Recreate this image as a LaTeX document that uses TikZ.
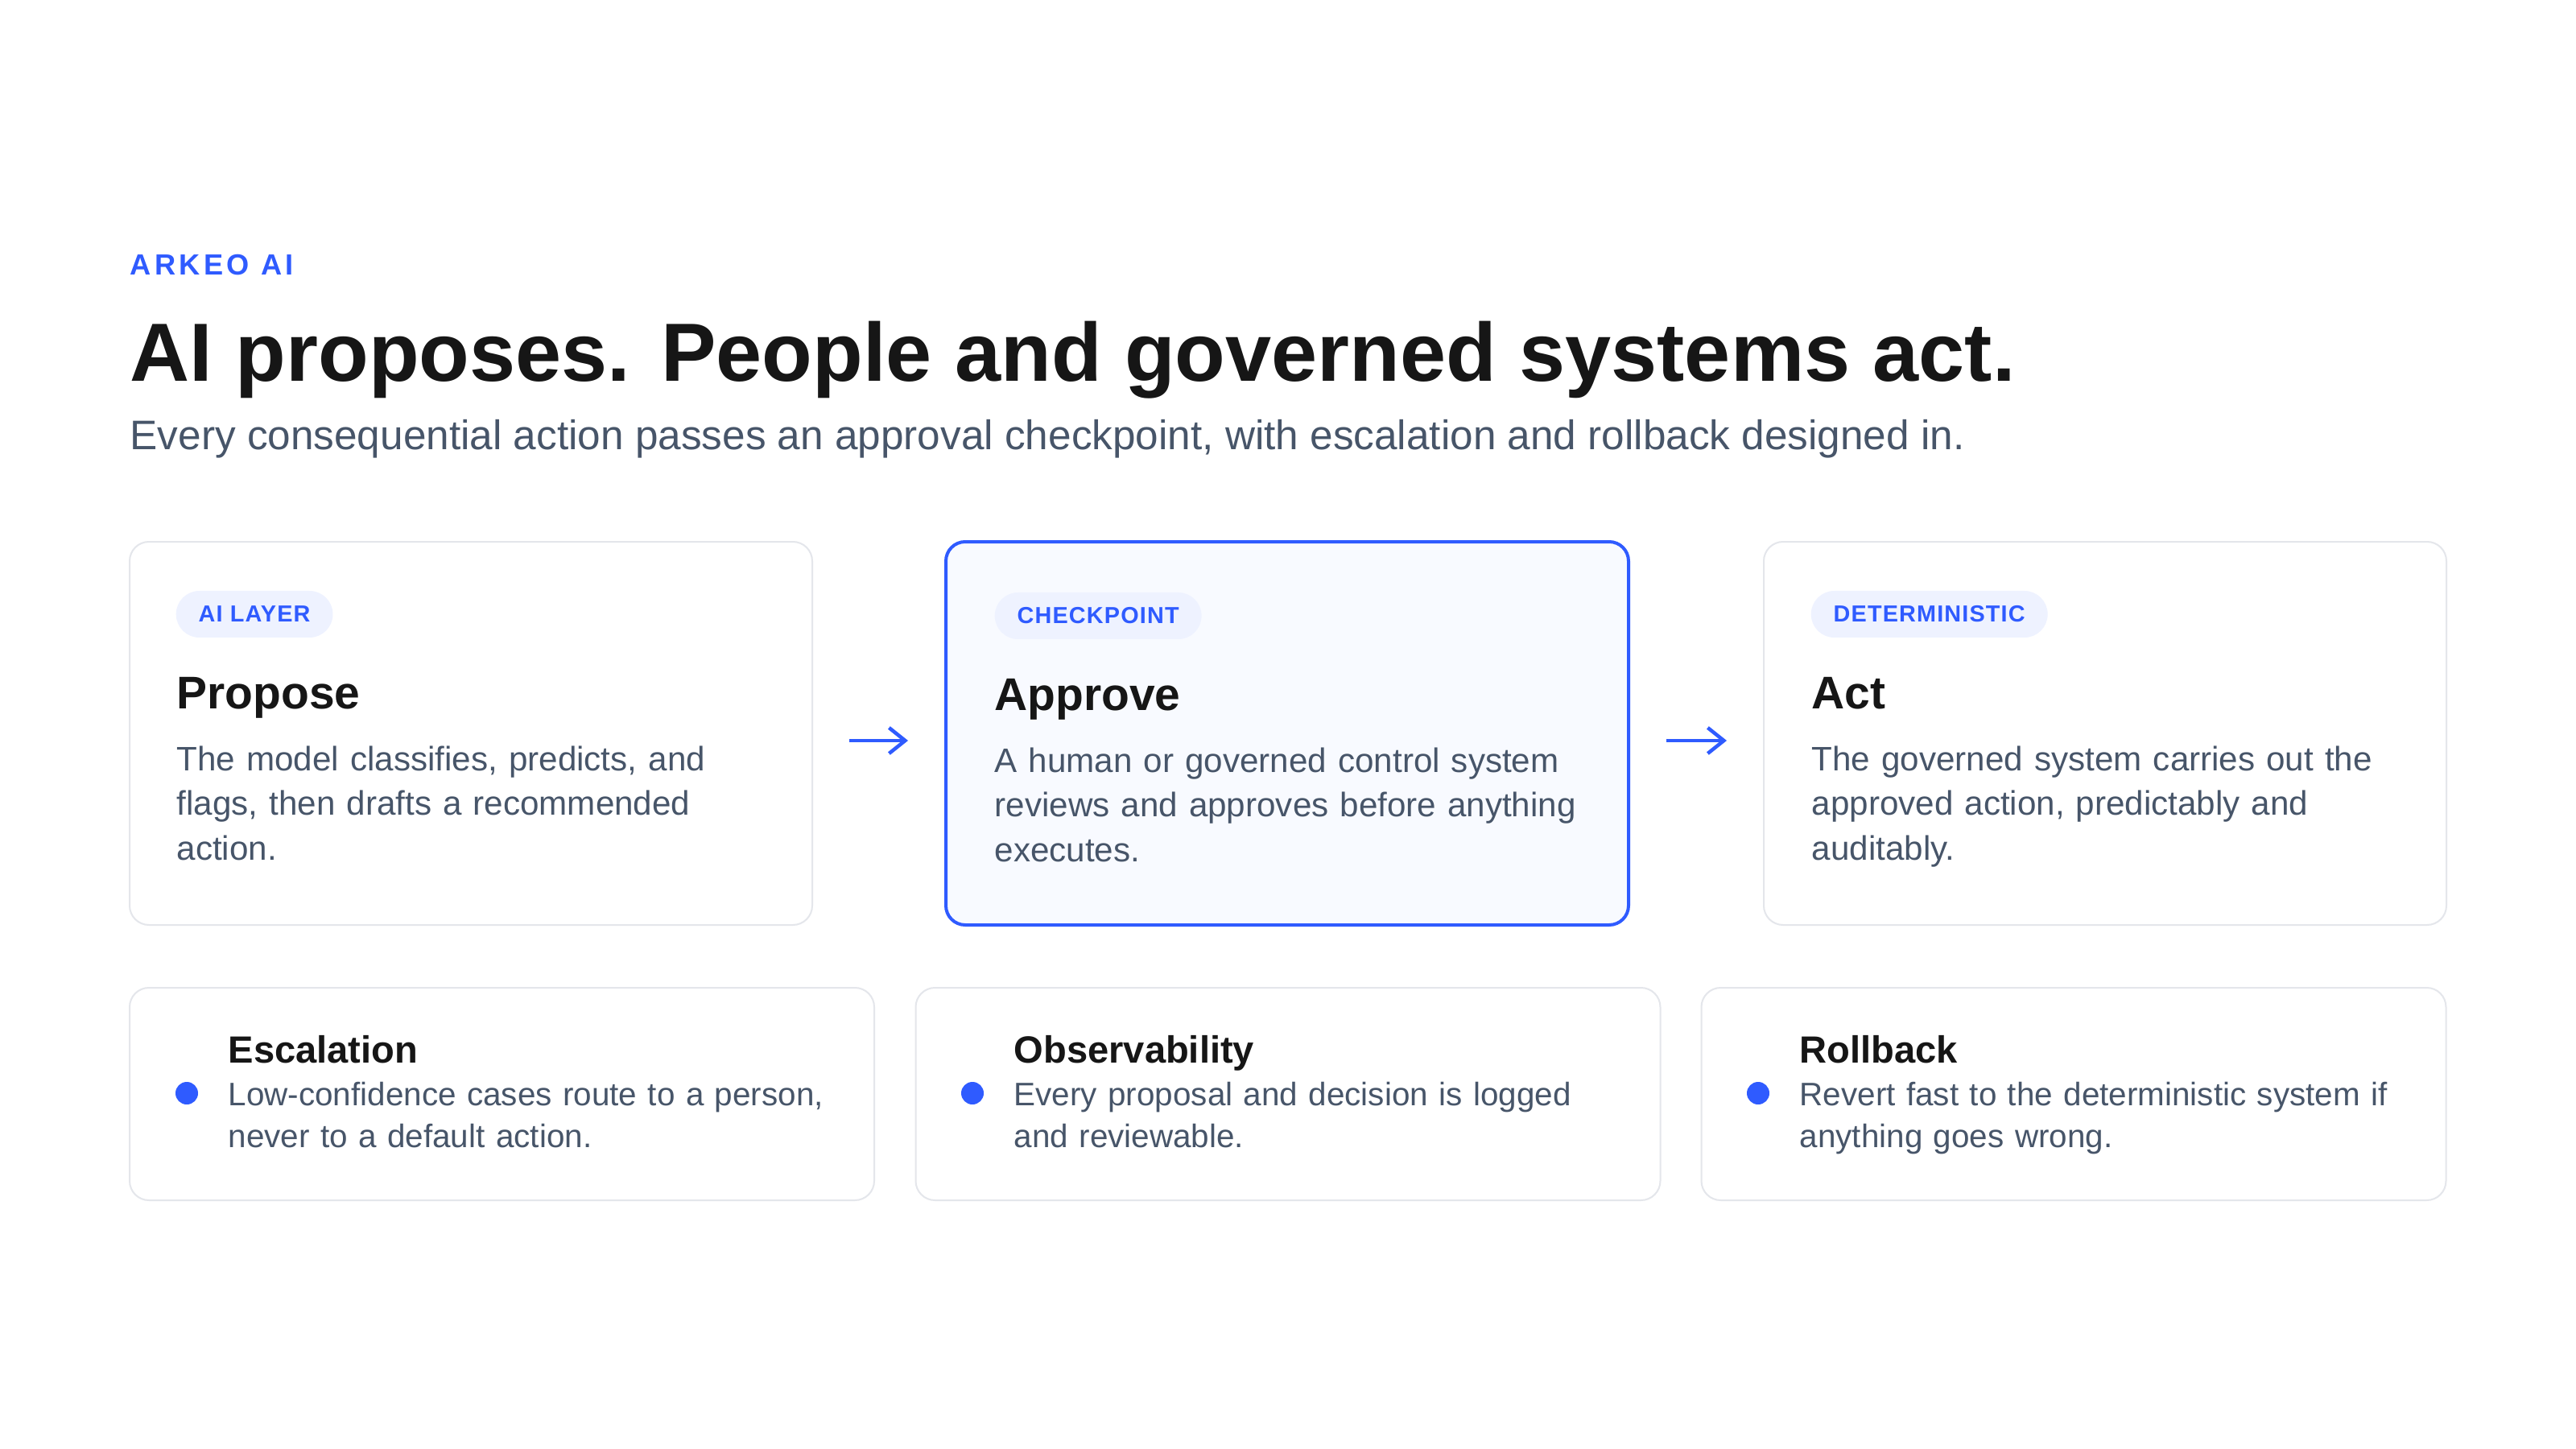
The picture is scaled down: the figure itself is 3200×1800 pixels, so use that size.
\documentclass[tikz,border=0pt]{standalone}
\usepackage{fontspec}
\setmainfont{Liberation Sans}
\usetikzlibrary{arrows.meta}
\definecolor{accent}{HTML}{2F5BFF}
\definecolor{ink}{HTML}{161616}
\definecolor{slate}{HTML}{475569}
\definecolor{edge}{HTML}{E4E6EB}
\definecolor{pillbg}{HTML}{EEF2FF}
\definecolor{focusbg}{HTML}{F8FAFF}
\begin{document}
\begin{tikzpicture}[x=0.1mm,y=-0.1mm,
  card/.style={draw=edge,line width=0.2mm,fill=white,rounded corners=2.4mm,
    minimum width=84.8mm,minimum height=47.6mm,inner sep=0},
  focus/.style={card,draw=accent,line width=0.4mm,fill=focusbg},
  note/.style={card,minimum width=92.5mm,minimum height=26.4mm},
  pill/.style={fill=pillbg,rounded corners=2.9mm,minimum height=5.8mm,inner xsep=2.8mm,
    inner ysep=0,anchor=west,text=accent,
    font=\fontsize{8.2pt}{8.2pt}\selectfont\bfseries\addfontfeature{LetterSpace=4}},
  head/.style={anchor=base west,inner sep=0,text=ink,font=\fontsize{16.2pt}{16.2pt}\selectfont\bfseries},
  body/.style={anchor=base west,inner sep=0,text=slate,text width=85mm,align=left,
    font=\fontsize{12pt}{15.93pt}\selectfont},
  nhead/.style={anchor=base west,inner sep=0,text=ink,font=\fontsize{13.4pt}{13.4pt}\selectfont\bfseries},
  nbody/.style={anchor=base west,inner sep=0,text=slate,text width=85mm,align=left,
    font=\fontsize{11.5pt}{14.8pt}\selectfont},
  dot/.style={circle,fill=accent,minimum size=2.8mm,inner sep=0},
  flow/.style={draw=accent,line width=0.45mm,-{Straight Barb[length=2mm,width=3.2mm]},
    shorten <=4.5mm,shorten >=4.5mm}]
  \fill[white] (0,0) rectangle (3200,1800);
  \path[use as bounding box] (0,0) rectangle (3200,1800);

  % header
  \node[anchor=base west,inner sep=0,text=accent,
    font=\fontsize{10.3pt}{10.3pt}\selectfont\bfseries\addfontfeature{LetterSpace=12}] (brand) at (161,342) {ARKEO AI};
  \node[anchor=base west,inner sep=0,text=ink,font=\fontsize{29.2pt}{29.2pt}\selectfont\bfseries] (title) at (161,474)
    {AI proposes. People and governed systems act.};
  \node[anchor=base west,inner sep=0,text=slate,font=\fontsize{14.6pt}{14.6pt}\selectfont] (lede) at (161,559)
    {Every consequential action passes an approval checkpoint, with escalation and rollback designed in.};

  % flow
  \node[card] (propose) at (585,911) {};
  \node[focus] (approve) at (1599,911) {};
  \node[card] (act) at (2615,911) {};
  \draw[flow] ([yshift=-0.9mm]propose.east) -- ([yshift=-0.9mm]approve.west);
  \draw[flow] ([yshift=-0.9mm]approve.east) -- ([yshift=-0.9mm]act.west);

  \node[pill] (tag1) at (218,763) {AI LAYER};
  \node[pill] (tag2) at (1235,765) {CHECKPOINT};
  \node[pill] (tag3) at (2249,763) {DETERMINISTIC};
  \node[head] (h1) at (219,880) {Propose};
  \node[head] (h2) at (1235,882) {Approve};
  \node[head] (h3) at (2250,880) {Act};
  \node[body] (b1) at (219,957) {The model classifies, predicts, and\\flags, then drafts a recommended\\action.};
  \node[body] (b2) at (1235,959) {A human or governed control system\\reviews and approves before anything\\executes.};
  \node[body] (b3) at (2250,957) {The governed system carries out the\\approved action, predictably and\\auditably.};

  % safeguards
  \node[note] (esc) at (623.5,1359) {};
  \node[note] (obs) at (1600,1359) {};
  \node[note] (roll) at (2576,1359) {};
  \node[dot] (d1) at (232,1358) {};
  \node[dot] (d2) at (1208,1358) {};
  \node[dot] (d3) at (2184,1358) {};
  \node[nhead] (n1) at (283,1320) {Escalation};
  \node[nhead] (n2) at (1259,1320) {Observability};
  \node[nhead] (n3) at (2235,1320) {Rollback};
  \node[nbody] (t1) at (283,1373) {Low-confidence cases route to a person,\\never to a default action.};
  \node[nbody] (t2) at (1259,1373) {Every proposal and decision is logged\\and reviewable.};
  \node[nbody] (t3) at (2235,1373) {Revert fast to the deterministic system if\\anything goes wrong.};
\end{tikzpicture}
\end{document}
